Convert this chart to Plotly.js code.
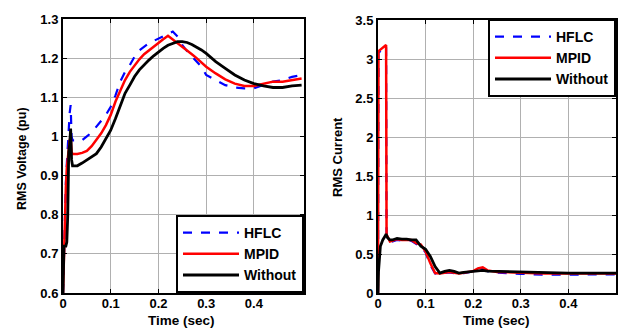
<!DOCTYPE html>
<html><head><meta charset="utf-8">
<script src="https://cdn.plot.ly/plotly-3.0.1.min.js"></script>
<style>html,body{margin:0;padding:0;background:#fff}#c{width:619px;height:328px}</style>
</head><body><div id="c"></div>
<script>
// Left: RMS Voltage (pu)
const tV = [0, 0.002, 0.004, 0.006, 0.008, 0.01, 0.012, 0.014, 0.016, 0.018, 0.02, 0.025, 0.03, 0.04, 0.05, 0.06, 0.07, 0.08, 0.09, 0.1, 0.11, 0.12, 0.13, 0.14, 0.15, 0.16, 0.17, 0.18, 0.19, 0.2, 0.21, 0.22, 0.23, 0.24, 0.25, 0.26, 0.27, 0.28, 0.29, 0.3, 0.32, 0.34, 0.36, 0.38, 0.4, 0.42, 0.44, 0.46, 0.48, 0.5];
const vHFLC = [0.6, 0.72, 0.8, 0.88, 0.93, 0.98, 1.0, 1.06, 1.08, 1.0, 0.99, 0.99, 0.987, 0.99, 1.0, 1.01, 1.025, 1.04, 1.055, 1.076, 1.105, 1.14, 1.165, 1.182, 1.204, 1.22, 1.23, 1.238, 1.244, 1.25, 1.255, 1.262, 1.268, 1.255, 1.233, 1.218, 1.204, 1.19, 1.178, 1.157, 1.144, 1.131, 1.125, 1.123, 1.123, 1.131, 1.14, 1.144, 1.152, 1.157];
const vMPID = [0.6, 0.7, 0.8, 0.87, 0.92, 0.95, 0.96, 0.99, 1.0, 0.96, 0.955, 0.955, 0.955, 0.958, 0.963, 0.975, 0.99, 1.008, 1.029, 1.055, 1.089, 1.118, 1.144, 1.165, 1.182, 1.197, 1.21, 1.22, 1.23, 1.238, 1.248, 1.257, 1.248, 1.238, 1.23, 1.22, 1.21, 1.2, 1.19, 1.178, 1.161, 1.146, 1.135, 1.129, 1.129, 1.135, 1.14, 1.14, 1.144, 1.148];
const vWithout = [0.6, 0.72, 0.72, 0.72, 0.73, 0.8, 0.96, 0.98, 1.02, 0.94, 0.925, 0.925, 0.925, 0.932, 0.94, 0.948, 0.956, 0.973, 0.995, 1.016, 1.046, 1.08, 1.11, 1.131, 1.153, 1.17, 1.183, 1.195, 1.206, 1.216, 1.225, 1.233, 1.238, 1.242, 1.242, 1.24, 1.235, 1.229, 1.221, 1.212, 1.191, 1.174, 1.157, 1.144, 1.135, 1.129, 1.125, 1.125, 1.129, 1.131];

// Right: RMS Current
const tI = [0, 0.001, 0.005, 0.01, 0.015, 0.017, 0.018, 0.02, 0.025, 0.03, 0.04, 0.05, 0.06, 0.07, 0.08, 0.09, 0.1, 0.11, 0.12, 0.13, 0.14, 0.15, 0.16, 0.17, 0.18, 0.19, 0.2, 0.21, 0.22, 0.23, 0.25, 0.3, 0.35, 0.4, 0.45, 0.5];
const iHFLC = [0, 3.08, 3.1, 3.13, 3.16, 3.17, 0.74, 0.7, 0.65, 0.66, 0.68, 0.67, 0.67, 0.67, 0.63, 0.6, 0.52, 0.36, 0.25, 0.245, 0.255, 0.265, 0.255, 0.245, 0.255, 0.265, 0.275, 0.3, 0.31, 0.28, 0.26, 0.245, 0.235, 0.235, 0.24, 0.24];
const iMPID = [0, 3.1, 3.12, 3.15, 3.18, 3.18, 0.75, 0.72, 0.66, 0.67, 0.69, 0.68, 0.68, 0.68, 0.64, 0.62, 0.53, 0.38, 0.256, 0.25, 0.26, 0.27, 0.26, 0.25, 0.26, 0.27, 0.28, 0.316, 0.33, 0.29, 0.27, 0.26, 0.25, 0.25, 0.25, 0.25];
const iWithout = [0, 0.27, 0.6, 0.68, 0.73, 0.755, 0.74, 0.71, 0.68, 0.68, 0.7, 0.69, 0.69, 0.68, 0.68, 0.6, 0.56, 0.47, 0.34, 0.256, 0.277, 0.29, 0.277, 0.256, 0.265, 0.27, 0.277, 0.28, 0.29, 0.28, 0.277, 0.265, 0.256, 0.256, 0.256, 0.256];

const seriesNames = ['HFLC', 'MPID', 'Without'];
const xTitle = 'Time (sec)';
const vTitle = 'RMS Voltage (pu)';
const iTitle = 'RMS Current';
const xTickVals = [0, 0.1, 0.2, 0.3, 0.4];
const xTickText = ['0', '0.1', '0.2', '0.3', '0.4'];
const vTickVals = [0.6, 0.7, 0.8, 0.9, 1.0, 1.1, 1.2, 1.3];
const vTickText = ['0.6', '0.7', '0.8', '0.9', '1', '1.1', '1.2', '1.3'];
const iTickVals = [0, 0.5, 1, 1.5, 2, 2.5, 3, 3.5];
const iTickText = ['0', '0.5', '1', '1.5', '2', '2.5', '3', '3.5'];

const styles = [
  {color: '#0000ff', width: 2.2, dash: 'dash'},
  {color: '#ff0000', width: 2.5, dash: 'solid'},
  {color: '#000000', width: 2.8, dash: 'solid'}
];
const vData = [vHFLC, vMPID, vWithout];
const iData = [iHFLC, iMPID, iWithout];
const traces = [];
for (let k = 0; k < 3; k++) {
  traces.push({x: tV, y: vData[k], name: seriesNames[k], type: 'scatter', mode: 'lines',
    line: styles[k], xaxis: 'x', yaxis: 'y', legend: 'legend'});
}
for (let k = 0; k < 3; k++) {
  traces.push({x: tI, y: iData[k], name: seriesNames[k], type: 'scatter', mode: 'lines',
    line: styles[k], xaxis: 'x2', yaxis: 'y2', legend: 'legend2'});
}

const FAM = 'Arial, Liberation Sans, sans-serif';
const bold = {family: FAM, size: 13, color: '#000', weight: 'bold'};
const axBase = {
  showline: true, linecolor: '#000', linewidth: 2, mirror: 'ticks',
  ticks: 'inside', ticklen: 4, tickwidth: 1, tickcolor: '#000',
  showgrid: true, gridcolor: '#b0b0b0', gridwidth: 1, zeroline: false,
  tickfont: bold, tickmode: 'array'
};
const legBase = {
  bgcolor: '#fff', bordercolor: '#000', borderwidth: 2,
  font: {family: FAM, size: 14, color: '#000', weight: 'bold'},
  traceorder: 'normal', itemwidth: 56, tracegroupgap: 0
};
function ann(text, x, y, size, angle) {
  return {text: text, xref: 'paper', yref: 'paper', x: x / 619, y: 1 - y / 328,
    xanchor: 'center', yanchor: 'middle', showarrow: false, textangle: angle,
    font: {family: FAM, size: size, color: '#000', weight: 'bold'}};
}
const layout = {
  width: 619, height: 328,
  margin: {l: 0, r: 0, t: 0, b: 0},
  paper_bgcolor: '#fff', plot_bgcolor: '#fff',
  showlegend: true,
  xaxis: Object.assign({}, axBase, {domain: [63/619, 304/619], range: [0, 0.505],
    tickvals: xTickVals, ticktext: xTickText, anchor: 'y', ticklabelstandoff: -3}),
  yaxis: Object.assign({}, axBase, {domain: [35/328, 309/328], range: [0.6, 1.3],
    tickvals: vTickVals, ticktext: vTickText, anchor: 'x'}),
  xaxis2: Object.assign({}, axBase, {domain: [378/619, 616/619], range: [0, 0.5],
    tickvals: xTickVals, ticktext: xTickText, anchor: 'y2', ticklabelstandoff: -3}),
  yaxis2: Object.assign({}, axBase, {domain: [35/328, 308/328], range: [0, 3.5],
    tickvals: iTickVals, ticktext: iTickText, anchor: 'x2'}),
  legend: Object.assign({}, legBase, {x: 304/619, xanchor: 'right', y: 35/328, yanchor: 'bottom'}),
  legend2: Object.assign({}, legBase, {x: 616/619, xanchor: 'right', y: 309/328, yanchor: 'top'}),
  annotations: [
    ann(xTitle, 181, 320, 13.5, 0),
    ann(xTitle, 496, 320, 13.5, 0),
    ann(vTitle, 22, 159, 12.5, -90),
    ann(iTitle, 337, 157, 13, -90)
  ]
};
Plotly.newPlot('c', traces, layout, {staticPlot: true, displayModeBar: false});
</script></body></html>
